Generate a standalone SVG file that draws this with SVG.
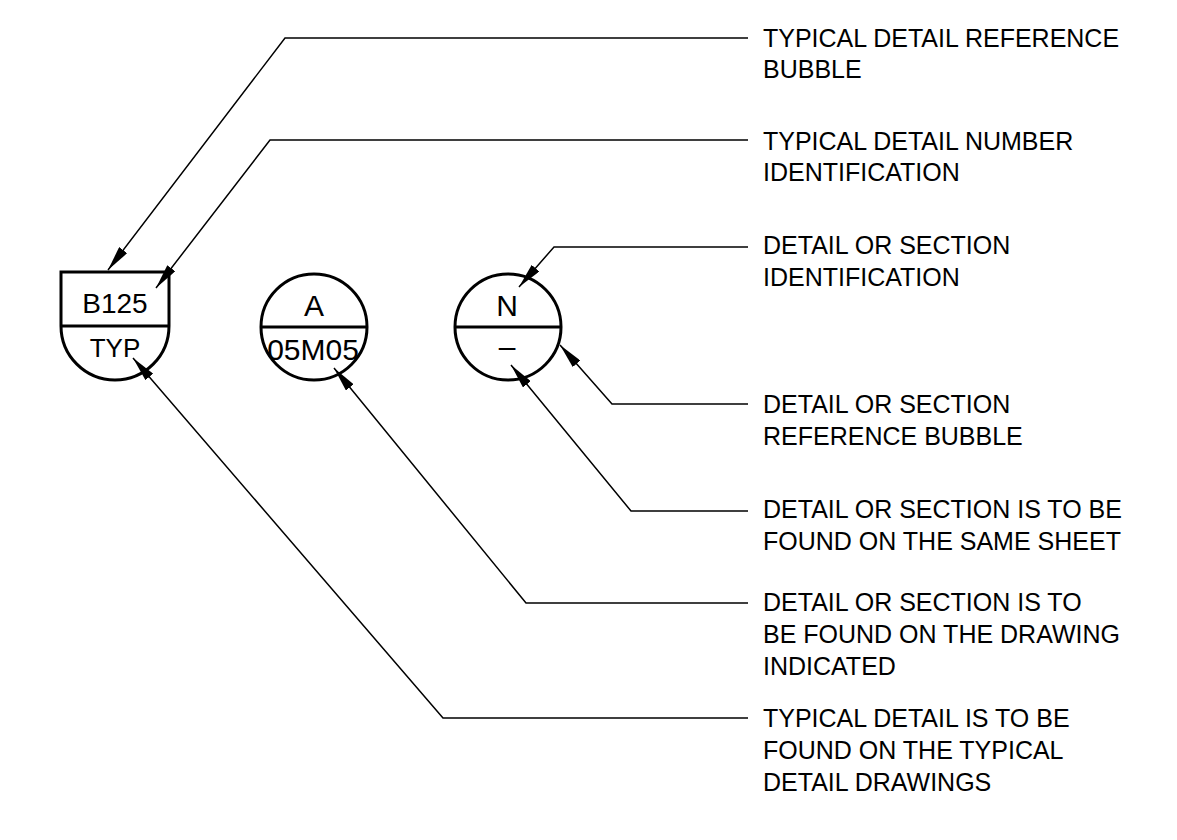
<svg xmlns="http://www.w3.org/2000/svg" width="1177" height="840" viewBox="0 0 1177 840">
  <defs>
    <marker id="arrow" viewBox="0 0 25 10" refX="25" refY="5" markerWidth="25" markerHeight="10" markerUnits="userSpaceOnUse" orient="auto">
      <path d="M0,0 L25,5 L0,10 Z" fill="#000"/>
    </marker>
    <style>
      .shape { fill: none; stroke: #000; stroke-width: 3; }
      .leader { fill: none; stroke: #000; stroke-width: 1.5; marker-end: url(#arrow); }
      .sym { font-family: "Liberation Sans", Arial, sans-serif; fill: #000; text-anchor: middle; }
      .note { font-family: "Liberation Sans", Arial, sans-serif; font-size: 25px; fill: #000; }
    </style>
  </defs>
  <rect width="1177" height="840" fill="#fff"/>

  <g id="typical-bubble">
    <path class="shape" d="M61,272 H169 V326 A54,54 0 0 1 61,326 Z"/>
    <line class="shape" x1="61" y1="326" x2="169" y2="326"/>
    <text class="sym" x="115" y="313" font-size="28">B125</text>
    <text class="sym" x="115" y="357" font-size="26">TYP</text>
  </g>

  <g id="detail-bubble-a">
    <circle class="shape" cx="314" cy="327" r="53"/>
    <line class="shape" x1="261" y1="327" x2="367" y2="327"/>
    <text class="sym" x="314" y="316" font-size="30">A</text>
    <text class="sym" x="313" y="360" font-size="30">05M05</text>
  </g>

  <g id="detail-bubble-n">
    <circle class="shape" cx="508" cy="327" r="53"/>
    <line class="shape" x1="455" y1="327" x2="561" y2="327"/>
    <text class="sym" x="507" y="316" font-size="30">N</text>
    <text class="sym" x="507" y="357" font-size="30">–</text>
  </g>

  <g id="connectors">
    <polyline class="leader" points="748,38 285,38 108,270"/>
    <polyline class="leader" points="748,140 270,140 156,288"/>
    <polyline class="leader" points="748,247 554,247 519,287"/>
    <polyline class="leader" points="748,404 612,404 560,345"/>
    <polyline class="leader" points="748,511 631,511 511,365"/>
    <polyline class="leader" points="748,603 526,603 334,368"/>
    <polyline class="leader" points="748,718 443,718 133,358"/>
  </g>

  <g id="notes">
    <text class="note" x="763" y="47">TYPICAL DETAIL REFERENCE</text>
    <text class="note" x="763" y="78">BUBBLE</text>
    <text class="note" x="763" y="150">TYPICAL DETAIL NUMBER</text>
    <text class="note" x="763" y="181">IDENTIFICATION</text>
    <text class="note" x="763" y="254">DETAIL OR SECTION</text>
    <text class="note" x="763" y="286">IDENTIFICATION</text>
    <text class="note" x="763" y="413">DETAIL OR SECTION</text>
    <text class="note" x="763" y="445">REFERENCE BUBBLE</text>
    <text class="note" x="763" y="518">DETAIL OR SECTION IS TO BE</text>
    <text class="note" x="763" y="550">FOUND ON THE SAME SHEET</text>
    <text class="note" x="763" y="611">DETAIL OR SECTION IS TO</text>
    <text class="note" x="763" y="643">BE FOUND ON THE DRAWING</text>
    <text class="note" x="763" y="675">INDICATED</text>
    <text class="note" x="763" y="727">TYPICAL DETAIL IS TO BE</text>
    <text class="note" x="763" y="759">FOUND ON THE TYPICAL</text>
    <text class="note" x="763" y="791">DETAIL DRAWINGS</text>
  </g>
</svg>
